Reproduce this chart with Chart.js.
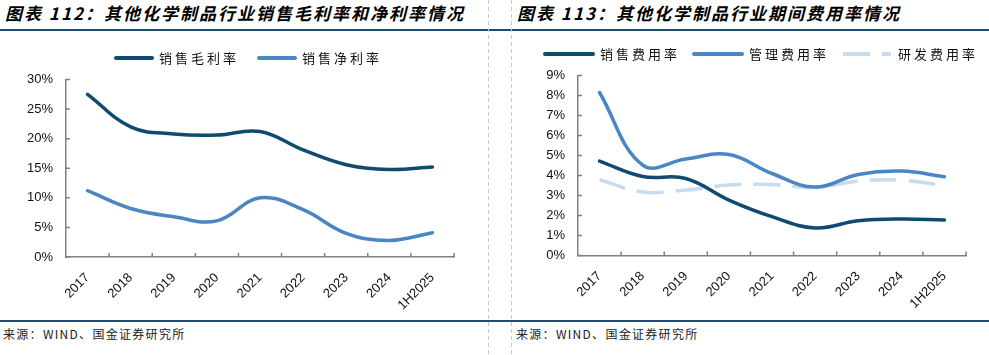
<!DOCTYPE html>
<html><head><meta charset="utf-8">
<script src="https://cdn.jsdelivr.net/npm/chart.js@4.4.1/dist/chart.umd.min.js"></script>
<style>
body{margin:0;width:989px;height:355px;background:#fff;position:relative;overflow:hidden;font-family:"Noto Sans CJK SC",sans-serif;}
.title{position:absolute;top:3px;font-size:17px;font-weight:bold;font-style:italic;letter-spacing:2px;color:#000;white-space:nowrap;line-height:20px}
.hline{position:absolute;left:0;width:989px;height:1.5px;background:#1b4f72}
.vline{position:absolute;top:0;height:355px;width:1px;background:repeating-linear-gradient(to bottom,#c8c8c8 0 4px,transparent 4px 7px)}
.src{position:absolute;top:326px;font-size:12px;letter-spacing:1.3px;color:#222;white-space:nowrap;line-height:16px}
.legend{position:absolute;display:flex;align-items:center;font-size:13px;letter-spacing:3px;color:#111;white-space:nowrap;line-height:16px;z-index:2}
.legend svg{display:block;margin-right:5px}
.legend span.lab{margin-right:var(--gap)}
canvas{position:absolute;top:0}
</style>
</head><body>
<div class="title" style="left:5px">图表 112：其他化学制品行业销售毛利率和净利率情况</div>
<div class="title" style="left:517px">图表 113：其他化学制品行业期间费用率情况</div>
<div class="hline" style="top:29px"></div>
<div class="hline" style="top:320px"></div>
<div class="vline" style="left:488px"></div>
<div class="vline" style="left:511px"></div>
<div class="src" style="left:3px">来源：WIND、国金证券研究所</div>
<div class="src" style="left:516px">来源：WIND、国金证券研究所</div>
<div id="legL" class="legend" style="left:114px;top:50px;--gap:18px"></div>
<div id="legR" class="legend" style="left:543px;top:46px;--gap:12px"></div>
<canvas id="cL" width="488" height="320" style="left:0"></canvas>
<canvas id="cR" width="500" height="320" style="left:489px"></canvas>
<script>
// ---- data ----
const categories = ['2017','2018','2019','2020','2021','2022','2023','2024','1H2025'];
const leftSeriesNames = ['销售毛利率','销售净利率'];
const grossMargin = [27.5, 22.0, 20.8, 20.6, 21.2, 18.1, 15.6, 14.8, 15.2];
const netMargin   = [11.2, 8.2, 6.8, 6.1, 10.0, 8.0, 4.0, 2.8, 4.1];
const rightSeriesNames = ['销售费用率','管理费用率','研发费用率'];
const sellingExp = [4.72, 3.95, 3.85, 2.77, 1.94, 1.38, 1.74, 1.83, 1.78];
const adminExp   = [8.15, 4.52, 4.82, 5.05, 4.10, 3.42, 4.05, 4.22, 3.94];
const rdExp      = [3.79, 3.18, 3.27, 3.52, 3.55, 3.39, 3.72, 3.77, 3.49];
const leftAxis  = {min:0, max:30, step:5};
const rightAxis = {min:0, max:9, step:1};

const DARK='#0f4a70', MID='#4a86c4', LIGHT='#c8dcef', AXIS='#808080';
Chart.defaults.font.family = '"Liberation Sans", Arial, sans-serif';
Chart.defaults.font.size = 13;
Chart.defaults.color = '#111';

const innerTicks = {
  id:'innerTicks',
  afterDraw(chart){
    const {ctx, chartArea:a, scales:{x,y}} = chart;
    ctx.save(); ctx.strokeStyle=AXIS; ctx.lineWidth=1.5; ctx.beginPath();
    y.ticks.forEach(t=>{ const py=y.getPixelForValue(t.value); ctx.moveTo(a.left,py); ctx.lineTo(a.left+4,py); });
    for(let i=1;i<=x.ticks.length;i++){ const px=x.getPixelForValue(i-0.5); ctx.moveTo(px,a.bottom); ctx.lineTo(px,a.bottom-4); }
    ctx.stroke(); ctx.restore();
  }
};

function makeChart(id, datasets, axis, yWidth, xHeight, padTop, padRight){
  return new Chart(document.getElementById(id), {
    type:'line',
    data:{labels:categories, datasets},
    options:{
      responsive:false, animation:false, devicePixelRatio:1,
      layout:{padding:{top:padTop,right:padRight,left:0,bottom:0}},
      plugins:{legend:{display:false}, tooltip:{enabled:false}},
      elements:{point:{radius:0}, line:{tension:0.4, borderWidth:3.5, borderCapStyle:'round', borderJoinStyle:'round'}},
      scales:{
        x:{offset:true, grid:{display:false, drawTicks:false}, border:{display:true,color:AXIS,width:1.5},
           ticks:{autoSkip:false, minRotation:45, maxRotation:45, padding:13, color:'#111'},
           afterFit(s){ s.height = xHeight; }},
        y:{min:axis.min, max:axis.max, grid:{display:false, drawTicks:false}, border:{display:true,color:AXIS,width:1.5},
           ticks:{stepSize:axis.step, padding:13, color:'#111', callback:v=>v+'%'},
           afterFit(s){ s.width = yWidth; }}
      }
    },
    plugins:[innerTicks]
  });
}

const dsL = [
  {label:leftSeriesNames[0], data:grossMargin, borderColor:DARK},
  {label:leftSeriesNames[1], data:netMargin, borderColor:MID}
];
const dsR = [
  {label:rightSeriesNames[0], data:sellingExp, borderColor:DARK},
  {label:rightSeriesNames[1], data:adminExp, borderColor:MID},
  {label:rightSeriesNames[2], data:rdExp, borderColor:LIGHT, borderDash:[27,12], borderCapStyle:'butt'}
];
makeChart('cL', dsL, leftAxis, 66, 63, 79.5, 34);
makeChart('cR', dsR, rightAxis, 89, 64.5, 75.5, 23);

function buildLegend(elId, ds, w){
  const el = document.getElementById(elId);
  ds.forEach(d=>{
    const dash = d.borderDash ? ` stroke-dasharray="${d.borderDash.join(' ')}"` : '';
    const cap = d.borderDash ? 'butt' : 'round';
    el.insertAdjacentHTML('beforeend',
      `<svg width="${w}" height="8"><line x1="2" y1="4" x2="${w-2}" y2="4" stroke="${d.borderColor}" stroke-width="4" stroke-linecap="${cap}"${dash}/></svg><span class="lab">${d.label}</span>`);
  });
}
buildLegend('legL', dsL, 40);
buildLegend('legR', dsR, 52);
</script>
</body></html>
